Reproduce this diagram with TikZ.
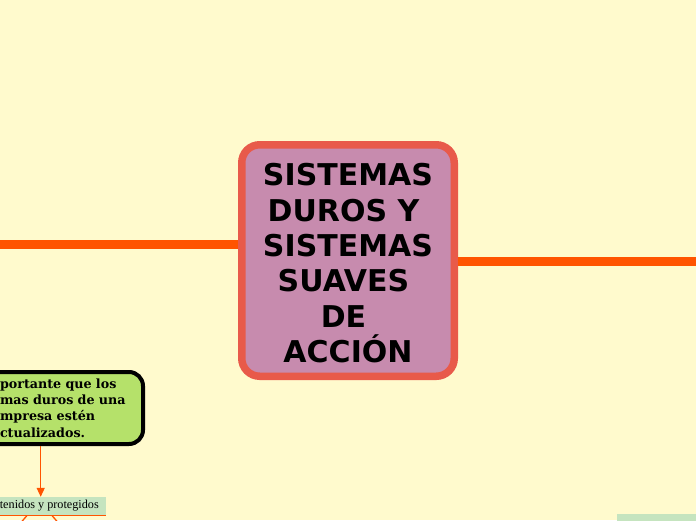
\documentclass[tikz,border=0pt]{standalone}
\usepackage{fontspec}
\setmainfont{Liberation Serif}
\newfontfamily\hubfont{DejaVu Sans}
\newfontfamily\leaffont{DejaVu Serif}
\usepackage{tikz}
\usetikzlibrary{positioning,arrows.meta}

\definecolor{paper}{HTML}{FFFACD}
\definecolor{hubfill}{HTML}{C78BAE}
\definecolor{hubline}{HTML}{E85A4A}
\definecolor{limb}{HTML}{FF5400}
\definecolor{leaf}{HTML}{B5E16A}
\definecolor{tag}{HTML}{C5E4BF}

\begin{document}
\begin{tikzpicture}[x=1pt,y=-1pt,
  hubbox/.style={draw=hubline, fill=hubfill, line width=7.5pt, rounded corners=18pt,
    minimum width=212.5pt, minimum height=231.5pt, inner sep=0pt, align=center,
    font=\hubfont\bfseries\fontsize{30}{35.4}\selectfont},
  leafbox/.style={draw=black, fill=leaf, line width=4pt, rounded corners=14pt,
    text width=123pt, inner xsep=20pt, minimum height=72pt, align=left,
    font=\leaffont\bfseries\fontsize{12.7}{16.3}\selectfont},
  tagbox/.style={fill=tag, inner xsep=7pt, inner ysep=0pt, minimum height=18pt,
    font=\fontsize{12.2}{14}\selectfont},
  limbline/.style={draw=limb, line width=9pt},
  flow/.style={draw=limb, line width=1.4pt, -{Triangle[length=9pt,width=8pt]}},
  twig/.style={draw=limb, line width=1.3pt}]
\useasboundingbox (0,0) rectangle (696,520);
\fill[paper] (0,0) rectangle (696,520);

% central topic
\node[hubbox] (hub) at (348,260.5)
  {\rule{0pt}{28pt}SISTEMAS\\DUROS Y\kern9pt\\SISTEMAS\\SUAVES\kern9pt\\DE\kern9pt\\ACCIÓN};

% main branches
\coordinate (leftend) at (0,244.5);
\coordinate (rightend) at (696,261);
\draw[limbline] (leftend) -- (leftend -| hub.west);
\draw[limbline] (hub.east |- rightend) -- (rightend);

% subtopic on the left
\node[leafbox] (keep) at (61.5,408)
  {\mbox{portante que los}\\\mbox{mas duros de una}\\\mbox{mpresa estén}\\\mbox{ctualizados.}};
\node[tagbox, anchor=east] (guard) at (106,506) {tenidos y protegidos};
\coordinate (drop) at (40.7,0);
\draw[flow] (keep.south -| drop) -- (guard.north -| drop);
\draw[twig] (guard.south west) -- (guard.south east);
\coordinate (forkl) at (27,515.5);
\coordinate (forkr) at (52,515.5);
\draw[twig] (forkl) -- ++(-6,7);
\draw[twig] (forkr) -- ++(6,7);

% label at the lower right
\node[fill=tag, anchor=north west, minimum width=100pt, minimum height=20pt] (tail) at (617,513.5) {};
\end{tikzpicture}
\end{document}
